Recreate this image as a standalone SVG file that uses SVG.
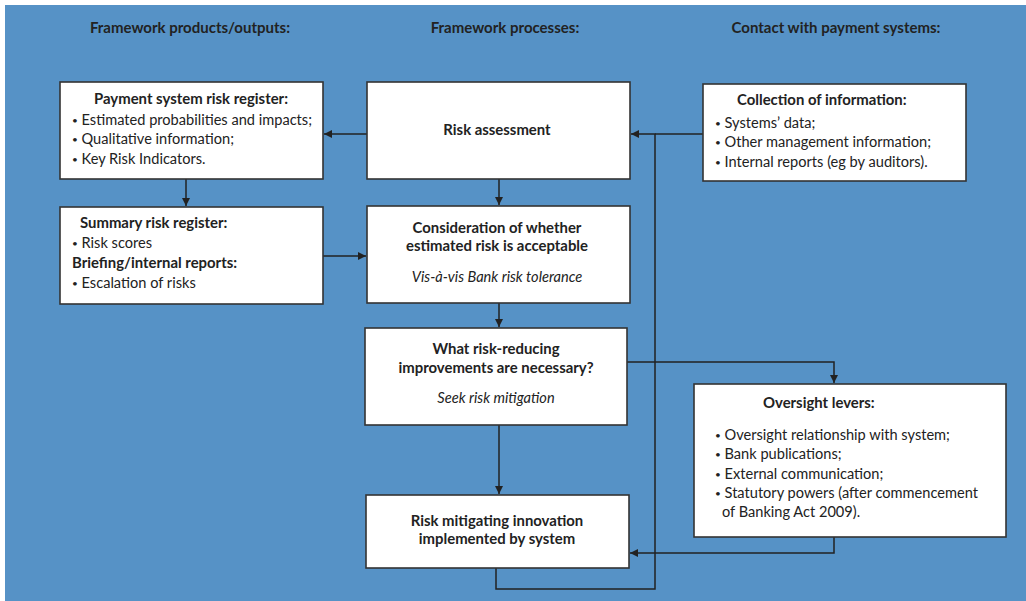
<svg xmlns="http://www.w3.org/2000/svg" width="1026" height="601" viewBox="0 0 1026 601">
<defs>
<marker id="arr" viewBox="0 0 10 10" refX="10" refY="5" markerWidth="8" markerHeight="8" markerUnits="userSpaceOnUse" orient="auto">
<path d="M0,0 L10,5 L0,10 z" fill="#222"/>
</marker>
<style>
.box{fill:#fff;stroke:#333;stroke-width:1.6}
.t{font-family:Lato,"Open Sans","Liberation Sans",sans-serif;font-size:14.6px;fill:#222}
.b{font-weight:bold;font-size:14.9px}
.i{font-style:italic;font-size:14.6px}
.c{text-anchor:middle}
.d{font-size:10px;baseline-shift:1.5px}
.h{font-family:Lato,"Open Sans","Liberation Sans",sans-serif;font-size:15px;font-weight:bold;fill:#222;text-anchor:middle}
.ln{fill:none;stroke:#222;stroke-width:1.5}
</style>
</defs>
<rect x="5" y="5" width="1021" height="596" fill="#5692c6"/>
<text class="h" x="190" y="33">Framework products/outputs:</text>
<text class="h" x="505" y="33">Framework processes:</text>
<text class="h" x="836" y="33">Contact with payment systems:</text>

<g id="connectors">
<line class="ln" x1="367" y1="134" x2="324" y2="134" marker-end="url(#arr)"/>
<line class="ln" x1="186" y1="179" x2="186" y2="206" marker-end="url(#arr)"/>
<line class="ln" x1="499" y1="179" x2="499" y2="205" marker-end="url(#arr)"/>
<line class="ln" x1="323" y1="256" x2="366" y2="256" marker-end="url(#arr)"/>
<line class="ln" x1="499" y1="303" x2="499" y2="327" marker-end="url(#arr)"/>
<line class="ln" x1="499" y1="425" x2="499" y2="494" marker-end="url(#arr)"/>
<polyline class="ln" points="496,568 496,589 655,589 655,134 631,134" marker-end="url(#arr)"/>
<line class="ln" x1="703" y1="134" x2="655" y2="134"/>
<polyline class="ln" points="627,362 834,362 834,383" marker-end="url(#arr)"/>
<polyline class="ln" points="834,537 834,553 630,553" marker-end="url(#arr)"/>
</g>

<g id="payment-register">
<rect class="box" x="60" y="82" width="263" height="97"/>
<text class="t b c" x="191" y="104">Payment system risk register:</text>
<text class="t" x="72" y="125"><tspan class="d">•</tspan> Estimated probabilities and impacts;</text>
<text class="t" x="72" y="144"><tspan class="d">•</tspan> Qualitative information;</text>
<text class="t" x="72" y="164"><tspan class="d">•</tspan> Key Risk Indicators.</text>
</g>

<g id="summary-register">
<rect class="box" x="60" y="207" width="263" height="97"/>
<text class="t b" x="80" y="228">Summary risk register:</text>
<text class="t" x="72" y="248"><tspan class="d">•</tspan> Risk scores</text>
<text class="t b" x="72" y="268">Briefing/internal reports:</text>
<text class="t" x="72" y="288"><tspan class="d">•</tspan> Escalation of risks</text>
</g>

<g id="risk-assessment">
<rect class="box" x="367" y="82" width="263" height="97"/>
<text class="t b c" x="497" y="135">Risk assessment</text>
</g>

<g id="consideration">
<rect class="box" x="367" y="206" width="263" height="97"/>
<text class="t b c" x="497" y="233">Consideration of whether</text>
<text class="t b c" x="497" y="251">estimated risk is acceptable</text>
<text class="t i c" x="497" y="282">Vis-à-vis Bank risk tolerance</text>
</g>

<g id="improvements">
<rect class="box" x="365" y="328" width="262" height="97"/>
<text class="t b c" x="496" y="354">What risk-reducing</text>
<text class="t b c" x="496" y="373">improvements are necessary?</text>
<text class="t i c" x="496" y="403">Seek risk mitigation</text>
</g>

<g id="innovation">
<rect class="box" x="366" y="495" width="263" height="73"/>
<text class="t b c" x="497" y="526">Risk mitigating innovation</text>
<text class="t b c" x="497" y="544">implemented by system</text>
</g>

<g id="collection">
<rect class="box" x="703" y="84" width="263" height="97"/>
<text class="t b" x="737" y="105">Collection of information:</text>
<text class="t" x="715" y="128"><tspan class="d">•</tspan> Systems’ data;</text>
<text class="t" x="715" y="147"><tspan class="d">•</tspan> Other management information;</text>
<text class="t" x="715" y="167"><tspan class="d">•</tspan> Internal reports (eg by auditors).</text>
</g>

<g id="oversight">
<rect class="box" x="694" y="384" width="312" height="153"/>
<text class="t b" x="763" y="408">Oversight levers:</text>
<text class="t" x="715" y="440"><tspan class="d">•</tspan> Oversight relationship with system;</text>
<text class="t" x="715" y="459"><tspan class="d">•</tspan> Bank publications;</text>
<text class="t" x="715" y="479"><tspan class="d">•</tspan> External communication;</text>
<text class="t" x="715" y="498"><tspan class="d">•</tspan> Statutory powers (after commencement</text>
<text class="t" x="722" y="517">of Banking Act 2009).</text>
</g>
</svg>
